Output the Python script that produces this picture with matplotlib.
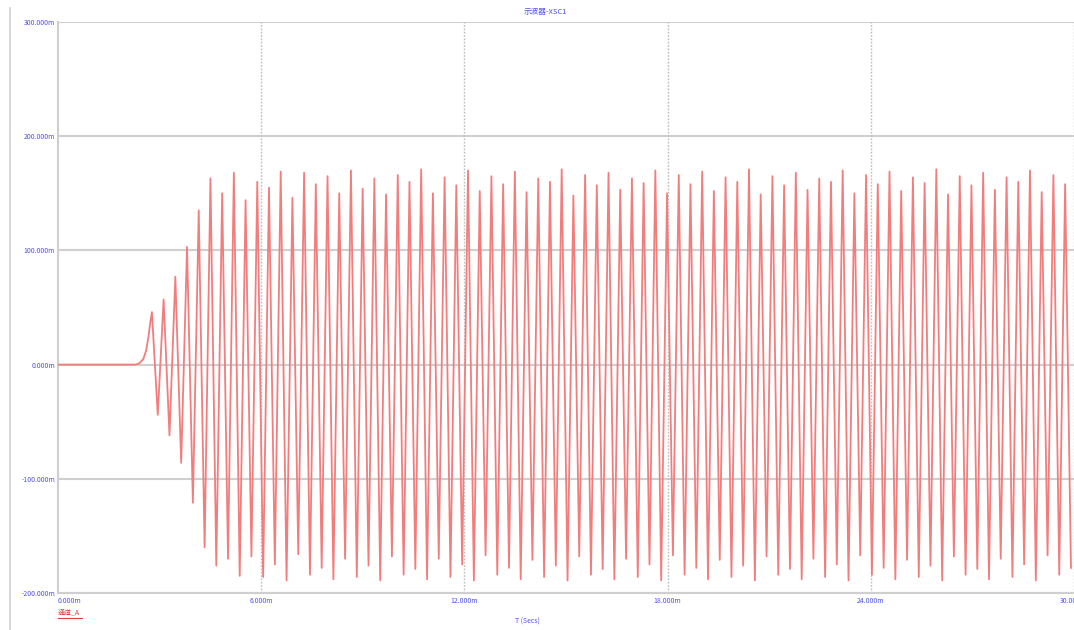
import numpy as np
import matplotlib
matplotlib.use("Agg")
import matplotlib.pyplot as plt

plt.rcParams['font.family'] = ['Noto Sans CJK SC', 'DejaVu Sans']

# Oscilloscope channel A, transient capture (time in ms, voltage in mV)
title_text = "示波器-XSC1"
legend_text = "通道_A"
x_label = "T (Secs)"

x_ticks = [0, 6, 12, 18, 24, 30]
x_tick_labels = ["0.000m", "6.000m", "12.000m", "18.000m", "24.000m", "30.000m"]
y_ticks = [-200, -100, 0, 100, 200, 300]
y_tick_labels = ["-200.000m", "-100.000m", "0.000m", "100.000m", "200.000m", "300.000m"]

# quiet interval and the slow rise before the oscillation starts
idle_t = [0.0, 2.30, 2.42, 2.52, 2.60, 2.67, 2.72]
idle_v = [0.0, 0.0, 1.5, 5.0, 12.0, 24.0, 36.0]

# first positive peak time and oscillation period (ms)
first_peak_ms = 2.773
period_ms = 0.3457

# positive peaks (mV)
peak_v = [46, 57, 77, 103, 135, 163, 150, 168, 144, 160, 155, 169, 146, 168,
          158, 165, 150, 170, 154, 163, 149, 166, 160, 171, 150, 164, 157, 170,
          152, 165, 158, 169, 151, 163, 160, 171, 148, 166, 157, 168, 153, 163,
          159, 170, 150, 166, 158, 169, 152, 164, 160, 171, 149, 165, 157, 168,
          153, 163, 160, 170, 150, 166, 158, 169, 152, 164, 159, 171, 149, 165,
          157, 168, 153, 164, 160, 170, 151, 166, 158]
# negative troughs following each peak (mV)
trough_v = [-44, -62, -86, -121, -160, -176, -170, -185, -168, -186, -175, -189,
            -166, -184, -178, -188, -170, -186, -176, -189, -168, -184, -179, -188,
            -170, -186, -175, -189, -167, -184, -178, -188, -171, -186, -176, -189,
            -168, -184, -179, -188, -170, -186, -175, -189, -167, -184, -178, -188,
            -171, -186, -176, -189, -168, -184, -179, -188, -170, -186, -175, -189,
            -167, -184, -178, -188, -171, -186, -176, -189, -168, -184, -179, -188,
            -170, -186, -175, -189, -167, -184, -178]

peak_t = first_peak_ms + period_ms * np.arange(len(peak_v))
trough_t = peak_t + period_ms / 2

wave_t = np.concatenate([idle_t, np.column_stack([peak_t, trough_t]).ravel()])
wave_v = np.concatenate([idle_v, np.column_stack([peak_v, trough_v]).ravel()])

W, H = 1074, 630
fig = plt.figure(figsize=(W / 100, H / 100), dpi=100)
fig.patch.set_facecolor("white")
ax = fig.add_axes([58 / W, 1 - 593 / H, 1 - 58 / W, (593 - 22) / H])
ax.set_facecolor("white")

grid_col = "#cfcfcf"
label_col = "#5050f0"

for yv in y_ticks:
    ax.axhline(yv, color=grid_col, lw=1.5, zorder=1)
for xv in x_ticks[1:]:
    ax.axvline(xv, color="#bdbdbd", lw=1.0, ls=(0, (1.2, 1.2)), zorder=1)

ax.plot(wave_t, wave_v, color="#f27d7d", lw=1.3, zorder=3,
        solid_joinstyle="round")

ax.set_xlim(0, 30)
ax.set_ylim(-200, 300)
ax.set_xticks(x_ticks)
ax.set_xticklabels(x_tick_labels)
ax.set_yticks(y_ticks)
ax.set_yticklabels(y_tick_labels)
ax.tick_params(axis="both", length=0, labelsize=5, labelcolor=label_col, pad=2)
ax.tick_params(axis="x", pad=3)
xl = ax.get_xticklabels()
xl[0].set_ha("left")

for side in ["top", "right"]:
    ax.spines[side].set_visible(False)
ax.spines["left"].set_color(grid_col)
ax.spines["left"].set_linewidth(1.5)
ax.spines["bottom"].set_color(grid_col)
ax.spines["bottom"].set_linewidth(1.5)

fig.text(545 / W, 1 - 12 / H, title_text, color=label_col, fontsize=5.5,
         ha="center", va="center")
fig.text(527 / W, 1 - 622 / H, x_label, color=label_col, fontsize=5,
         ha="center", va="center")
fig.text(58 / W, 1 - 612 / H, legend_text, color="#e04040", fontsize=5,
         ha="left", va="center")
fig.add_artist(plt.Line2D([58 / W, 82 / W], [1 - 618 / H, 1 - 618 / H],
                          color="#e04040", lw=0.8))
# outer frame line on the left
fig.add_artist(plt.Line2D([10 / W, 10 / W], [0, 1 - 8 / H], color=grid_col, lw=1.2))

fig.savefig("out.png", dpi=100, facecolor="white")
